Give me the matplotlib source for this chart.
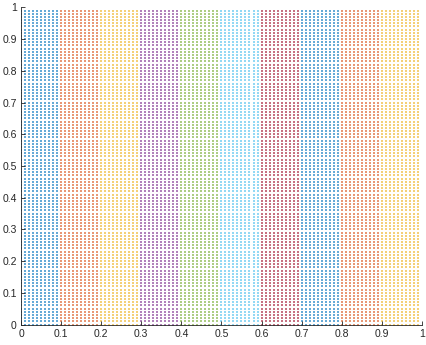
import numpy as np
import matplotlib.pyplot as plt

# grid of points, one colour per 0.1-wide band in x (MATLAB default colour order)
x_vals = np.arange(0, 100) / 100
y_vals = np.arange(0, 100) / 100
band_edges = [0.0, 0.1, 0.2, 0.3, 0.4, 0.5, 0.6, 0.7, 0.8, 0.9, 1.0]
band_colors = ["#0072BD", "#D95319", "#EDB120", "#7E2F8E", "#77AC30",
               "#4DBEEE", "#A2142F", "#0072BD", "#D95319", "#EDB120"]
ticks = [0, 0.1, 0.2, 0.3, 0.4, 0.5, 0.6, 0.7, 0.8, 0.9, 1]
tick_labels = ["0", "0.1", "0.2", "0.3", "0.4", "0.5", "0.6", "0.7", "0.8", "0.9", "1"]

plt.rcParams["font.family"] = ["Liberation Sans", "DejaVu Sans"]

fig = plt.figure(figsize=(4.26, 3.45), dpi=100)
ax = fig.add_axes([0.0493, 0.0594, 0.941, 0.919])

xx, yy = np.meshgrid(x_vals, y_vals)
xx = xx.ravel()
yy = yy.ravel()
for i, color in enumerate(band_colors):
    mask = (xx >= band_edges[i] - 1e-9) & (xx < band_edges[i + 1] - 1e-9)
    ax.scatter(xx[mask], yy[mask], s=0.6, marker="s", color=color,
               linewidths=0, alpha=0.6)

ax.set_xlim(0, 1)
ax.set_ylim(0, 1)
ax.set_xticks(ticks)
ax.set_xticklabels(tick_labels)
ax.set_yticks(ticks)
ax.set_yticklabels(tick_labels)
ax.spines["top"].set_visible(False)
ax.spines["right"].set_visible(False)
for s in ["left", "bottom"]:
    ax.spines[s].set_color("#262626")
    ax.spines[s].set_linewidth(0.6)
ax.tick_params(direction="in", length=3, width=0.6, colors="#262626",
               labelsize=7.5, pad=3)

fig.savefig("out.png", dpi=100)
